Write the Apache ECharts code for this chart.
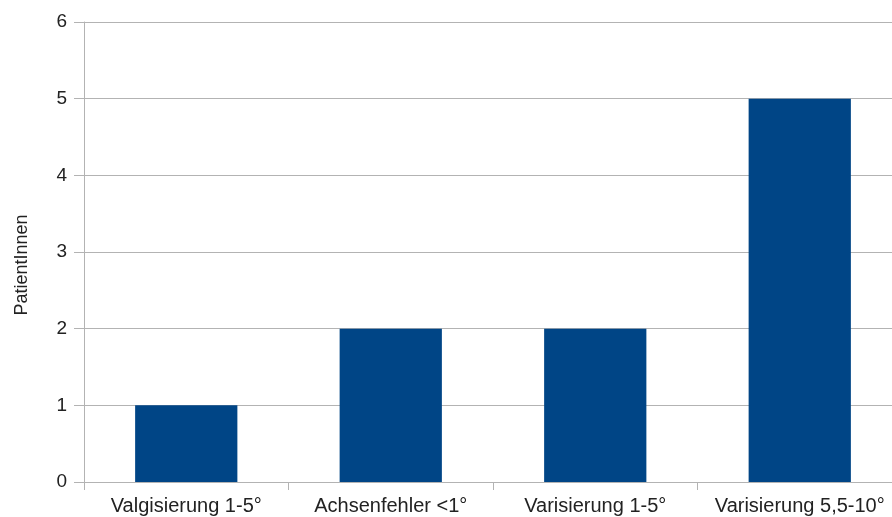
<!DOCTYPE html>
<html><head><meta charset="utf-8">
<script src="https://cdn.jsdelivr.net/npm/echarts@6/dist/echarts.min.js"></script>
<style>html,body{margin:0;padding:0;background:#fff;overflow:hidden}#c{width:902px;height:517px}</style>
</head><body><div id="c"></div>
<script>
const categories = ["Valgisierung 1-5°", "Achsenfehler <1°", "Varisierung 1-5°", "Varisierung 5,5-10°"];
const patients = [1, 2, 2, 5];
const yTicks = [0, 1, 2, 3, 4, 5, 6];

const chart = echarts.init(document.getElementById('c'), null, {renderer: 'canvas'});
chart.setOption({
  animation: false,
  backgroundColor: '#ffffff',
  grid: {left: 84, top: 22, right: 0, bottom: 35, containLabel: false},
  xAxis: {
    type: 'category',
    data: categories,
    boundaryGap: true,
    axisLine: {show: true, lineStyle: {color: '#b3b3b3', width: 1}},
    axisTick: {show: true, length: 8, alignWithLabel: false, lineStyle: {color: '#b3b3b3'}},
    axisLabel: {color: '#222', fontFamily: 'Liberation Sans', fontSize: 20, margin: 14, interval: 0}
  },
  yAxis: {
    type: 'value',
    min: yTicks[0], max: yTicks[yTicks.length - 1], interval: 1,
    name: 'PatientInnen',
    nameLocation: 'middle',
    nameGap: 53,
    nameRotate: 90,
    nameTextStyle: {color: '#222', fontFamily: 'Liberation Sans', fontSize: 18, padding: [0, 26, 0, 0]},
    axisLine: {show: true, lineStyle: {color: '#b3b3b3', width: 1}},
    axisTick: {show: true, length: 10, lineStyle: {color: '#b3b3b3'}},
    axisLabel: {color: '#222', fontFamily: 'Liberation Sans', fontSize: 19, margin: 17},
    splitLine: {show: true, lineStyle: {color: '#b3b3b3', width: 1}}
  },
  series: [{
    type: 'bar',
    data: patients,
    barWidth: '50%',
    itemStyle: {color: '#004586'}
  }]
});
</script></body></html>
